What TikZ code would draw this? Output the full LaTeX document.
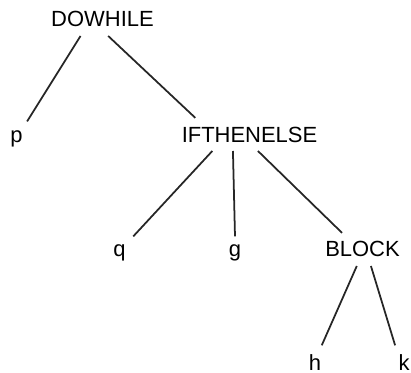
\documentclass[tikz,border=0pt]{standalone}
\usepackage{fontspec}
\setsansfont{Liberation Sans}
\usetikzlibrary{positioning}

\begin{document}
\begin{tikzpicture}[
    tnode/.style={anchor=base, inner sep=0pt, outer sep=5pt,
                  font=\sffamily\fontsize{12.5}{15}\selectfont},
    branch/.style={line width=1pt, black!85}
  ]
  \useasboundingbox (0,0) rectangle (8.22,7.44);

  \node[tnode] (dowhile) at (2.05, 6.90) {DOWHILE};
  \node[tnode] (p) at (0.33, 4.60) {p};
  \node[tnode] (ifthen) at (4.99, 4.60) {IFTHENELSE};
  \node[tnode] (q) at (2.39, 2.30) {q};
  \node[tnode] (g) at (4.70, 2.30) {g};
  \node[tnode] (block) at (7.25, 2.30) {BLOCK};
  \node[tnode] (h) at (6.30, 0.04) {h};
  \node[tnode] (k) at (8.08, 0.04) {k};

  \draw[branch] (dowhile.217) -- (p.58);
  \draw[branch] (dowhile.289) -- (ifthen.163);
  \draw[branch] (ifthen.204) -- (q.51);
  \draw[branch] (ifthen.225) -- (g.north);
  \draw[branch] (ifthen.297) -- (block.141);
  \draw[branch] (block.251) -- (h.68);
  \draw[branch] (block.297) -- (k.118);

\end{tikzpicture}
\end{document}
